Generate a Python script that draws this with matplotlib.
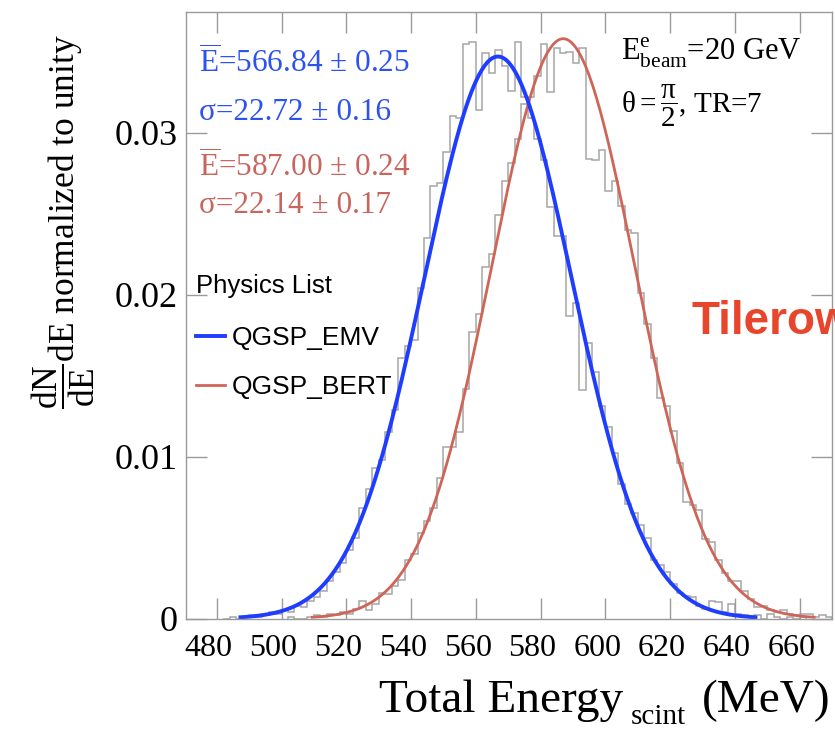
import numpy as np
import matplotlib.pyplot as plt
from matplotlib.transforms import ScaledTranslation

plt.rcParams['font.family'] = 'Liberation Serif'
plt.rcParams['mathtext.fontset'] = 'custom'
plt.rcParams['mathtext.rm'] = 'Liberation Serif'
plt.rcParams['mathtext.it'] = 'Liberation Serif'
plt.rcParams['mathtext.bf'] = 'Liberation Serif:bold'

## Data ########################

bin_width = 2

# QGSP_EMV histogram, 2 MeV bins starting at 482 MeV
emv_start = 482
emv_counts = [
    0.0, 0.0001, 0.0, 0.0001, 0.0002, 0.0001, 0.0003, 0.0004, 0.0003, 0.0005,
    0.0004, 0.0008, 0.0007, 0.0011, 0.0013, 0.0017, 0.0023, 0.0029, 0.0034, 0.0042,
    0.0050, 0.0068, 0.0080, 0.0093, 0.0098, 0.0115, 0.0129, 0.0161, 0.0168, 0.0172,
    0.0204, 0.0235, 0.0267, 0.0269, 0.0288, 0.0310, 0.0309, 0.0355, 0.0356, 0.0314,
    0.0349, 0.0337, 0.0351, 0.0341, 0.0326, 0.0356, 0.0322, 0.0309, 0.0296, 0.0283,
    0.0254, 0.0236, 0.0236, 0.0187, 0.0195, 0.0141, 0.0170, 0.0152, 0.0131, 0.0118,
    0.0102, 0.0083, 0.0071, 0.0065, 0.0058, 0.0050, 0.0036, 0.0033, 0.0029, 0.0021,
    0.0016, 0.0014, 0.0013, 0.0008, 0.0006, 0.0011, 0.0010, 0.0004, 0.0009, 0.0003,
    0.0002, 0.0001, 0.0002, 0.0, 0.0003, 0.0001, 0.0, 0.0001, 0.0, 0.0001,
]

# QGSP_BERT histogram, 2 MeV bins starting at 502 MeV
bert_start = 502
bert_counts = [
    0.0001, 0.0, 0.0, 0.0001, 0.0002, 0.0001, 0.0003, 0.0002, 0.0004, 0.0003,
    0.0006, 0.0011, 0.0005, 0.0009, 0.0016, 0.0015, 0.0020, 0.0024, 0.0036, 0.0040,
    0.0053, 0.0060, 0.0068, 0.0087, 0.0106, 0.0106, 0.0115, 0.0142, 0.0177, 0.0188,
    0.0217, 0.0225, 0.0249, 0.0270, 0.0281, 0.0296, 0.0318, 0.0322, 0.0335, 0.0355,
    0.0325, 0.0352, 0.0349, 0.0350, 0.0343, 0.0352, 0.0284, 0.0283, 0.0289, 0.0264,
    0.0270, 0.0255, 0.0240, 0.0238, 0.0201, 0.0182, 0.0161, 0.0136, 0.0131, 0.0116,
    0.0096, 0.0072, 0.0070, 0.0067, 0.0049, 0.0047, 0.0036, 0.0028, 0.0023, 0.0023,
    0.0017, 0.0012, 0.0007, 0.0008, 0.0005, 0.0004, 0.0005, 0.0003, 0.0002, 0.0003,
    0.0003, 0.0001, 0.0002, 0.0001,
]

# Gaussian fit results
emv_mean, emv_mean_err = 566.84, 0.25
emv_sigma, emv_sigma_err = 22.72, 0.16
emv_peak = 0.0347
bert_mean, bert_mean_err = 587.00, 0.24
bert_sigma, bert_sigma_err = 22.14, 0.17
bert_peak = 0.0358

x_ticks = [480, 500, 520, 540, 560, 580, 600, 620, 640, 660]
y_ticks = [0, 0.01, 0.02, 0.03]
y_tick_labels = ['0', '0.01', '0.02', '0.03']

## Figure ########################

W, H = 835, 732
def fx(px):
    return px / W
def fy(py):
    return 1 - py / H

blue = '#1f3dff'
red = '#cf6558'
blue_txt = '#2d52ee'
red_txt = '#c8665e'
frame = '#9a9a9a'

fig = plt.figure(figsize=(W / 100, H / 100), dpi=100)
ax = fig.add_axes([fx(186), fy(618.5), (832 - 186) / W, (618.5 - 12) / H])

def gauss(x, peak, mean, sigma):
    return peak * np.exp(-0.5 * ((x - mean) / sigma) ** 2)

emv_edges = emv_start + bin_width * np.arange(len(emv_counts) + 1)
bert_edges = bert_start + bin_width * np.arange(len(bert_counts) + 1)
ax.stairs(emv_counts, emv_edges, color='#a6a6a6', lw=1.1)
ax.stairs(bert_counts, bert_edges, color='#a6a6a6', lw=1.1)

xb = np.linspace(bert_mean - 3.5 * bert_sigma, bert_mean + 3.5 * bert_sigma, 400)
ax.plot(xb, gauss(xb, bert_peak, bert_mean, bert_sigma), color=red, lw=2.0,
        label='QGSP_BERT')
xe = np.linspace(emv_mean - 3.5 * emv_sigma, emv_mean + 3.5 * emv_sigma, 400)
ax.plot(xe, gauss(xe, emv_peak, emv_mean, emv_sigma), color=blue, lw=2.8,
        label='QGSP_EMV')

ax.set_xlim(470.5, 670)
ax.set_ylim(0, 0.03745)
ax.set_xticks(x_ticks)
ax.set_yticks(y_ticks)
ax.set_yticklabels(y_tick_labels)
ax.tick_params(direction='in', length=15, width=1, color=frame,
               top=True, right=True)
ax.tick_params(axis='x', labelsize=23, pad=11)
ax.tick_params(axis='y', labelsize=26, pad=6)
for s in ax.spines.values():
    s.set_color(frame)
    s.set_linewidth(1.0)
shift = ScaledTranslation(-8 / 100, 0, fig.dpi_scale_trans)
for lab in ax.get_xticklabels():
    lab.set_transform(lab.get_transform() + shift)

# legend
h, l = ax.get_legend_handles_labels()
leg = ax.legend(h[::-1], l[::-1], title='Physics List', loc='upper left',
                bbox_to_anchor=(fx(196), fy(274)), bbox_transform=fig.transFigure,
                frameon=False, prop={'family': 'Liberation Sans', 'size': 19},
                title_fontproperties={'family': 'Liberation Sans', 'size': 18.5},
                handlelength=1.1, handletextpad=0.25, labelspacing=0.95,
                borderpad=0, borderaxespad=0, alignment='left')
leg._legend_box.sep = 20

# fit results
fig.text(fx(199), fy(73), r'$\overline{\mathrm{E}}$=%.2f $\pm$ %.2f' % (emv_mean, emv_mean_err),
         color=blue_txt, fontsize=22.5, va='baseline')
fig.text(fx(199), fy(120), 'σ=%.2f ± %.2f' % (emv_sigma, emv_sigma_err),
         color=blue_txt, fontsize=22.5, va='baseline')
fig.text(fx(199), fy(177), r'$\overline{\mathrm{E}}$=%.2f $\pm$ %.2f' % (bert_mean, bert_mean_err),
         color=red_txt, fontsize=22.5, va='baseline')
fig.text(fx(199), fy(213), 'σ=%.2f ± %.2f' % (bert_sigma, bert_sigma_err),
         color=red_txt, fontsize=22.5, va='baseline')

# beam conditions
fig.text(fx(621), fy(60), r'E$^{\mathrm{e}}_{\mathrm{beam}}$=20 GeV', fontsize=22, va='baseline')
fig.text(fx(621), fy(113), r'$\theta = \dfrac{\pi}{2}$, TR=7', fontsize=21, va='baseline')

fig.text(fx(691), fy(322), 'Tilerow', family='Liberation Sans', weight='bold',
         color='#e8462c', fontsize=33, va='center')

# axis titles
fig.text(fx(379), fy(712), 'Total Energy', fontsize=34, ha='left', va='baseline')
fig.text(fx(631), fy(724), 'scint', fontsize=21, ha='left', va='baseline')
fig.text(fx(831), fy(712), '(MeV)', fontsize=34, ha='right', va='baseline')
fig.text(fx(63), fy(222), r'$\dfrac{\mathrm{dN}}{\mathrm{dE}}$dE normalized to unity',
         fontsize=25.5, rotation=90, ha='center', va='center')

fig.savefig('out.png', dpi=100)
